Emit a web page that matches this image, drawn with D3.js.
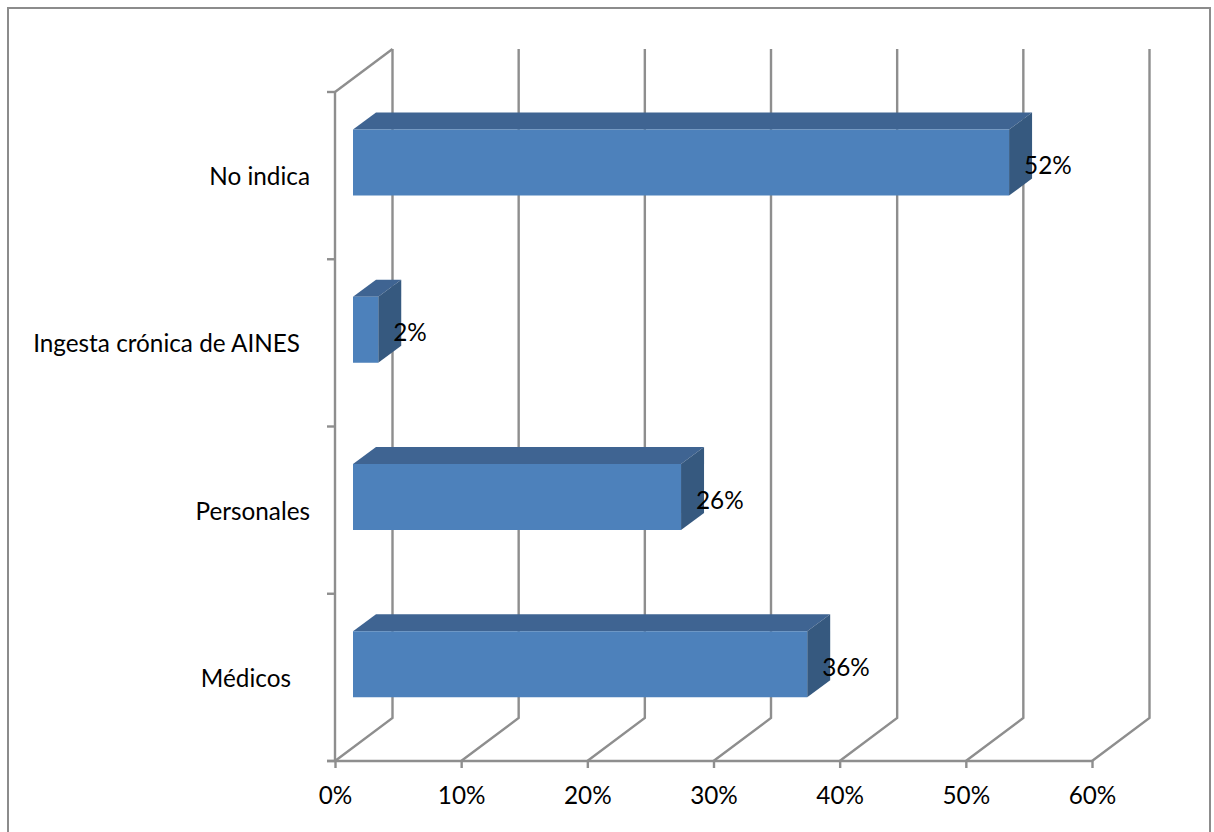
<!DOCTYPE html>
<html>
<head>
<meta charset="utf-8">
<script src="https://cdn.jsdelivr.net/npm/d3@7"></script>
<style>
html,body{margin:0;padding:0;background:#fff}
svg{display:block}
text{font-family:Lato,"Open Sans",sans-serif;fill:#000}
</style>
</head>
<body>
<svg id="chart" width="1214" height="832"></svg>
<script>
// Chart values, bottom category first
const categories = ["Médicos", "Personales", "Ingesta crónica de AINES", "No indica"];
const values = [36, 26, 2, 52];
const xTicks = [0, 10, 20, 30, 40, 50, 60];
// Extra left shift of each category label (trailing blanks in the source labels)
const labelShift = [19, 0, 10, 0];

const svg = d3.select("#chart");

const x = d3.scaleLinear().domain([0, 60]).range([335, 1092]);
const y = d3.scaleBand().domain(categories).range([761, 92]);

// Oblique projection: wall depth and bar depth
const wall = {dx: 57.5, dy: -43};
const barInsetX = 18, barTopInset = 37.5, barHeight = 66;
const bar = {dx: 23, dy: -17};

const axisColor = "#8e8e8e";
const gridW = 2.4;
const fontSize = "24.3px";

// Outer frame; its lower edge runs past the bottom of the page
svg.append("rect").attr("x", 8).attr("y", 8).attr("width", 1202).attr("height", 840)
  .attr("fill", "#fff").attr("stroke", "#8c8c8c").attr("stroke-width", 2);

// Back wall gridlines and the floor diagonals
const grid = svg.append("g").attr("fill", "none").attr("stroke", axisColor).attr("stroke-width", gridW);
xTicks.forEach(t => {
  const px = x(t);
  grid.append("path").attr("d",
    `M${px},761 L${px + wall.dx},${761 + wall.dy} L${px + wall.dx},${92 + wall.dy}`);
});

// Side wall top edge and left axis
grid.append("path").attr("d", `M${x(0)},92 L${x(0) + wall.dx},${92 + wall.dy}`);
grid.append("line").attr("x1", x(0)).attr("x2", x(0)).attr("y1", 92).attr("y2", 761);

// Category tick marks, including both axis ends
const yEdges = categories.map(c => y(c) + y.bandwidth()).concat([y.range()[1]]);
grid.selectAll("line.ytick").data(yEdges).join("line").attr("class", "ytick")
  .attr("x1", x(0) - 8).attr("x2", x(0)).attr("y1", d => d).attr("y2", d => d);

// Value axis with its ticks
const xAxis = svg.append("g").attr("transform", "translate(0,761)")
  .call(d3.axisBottom(x).tickValues(xTicks).tickSize(7).tickFormat(d => d + "%"));
xAxis.select(".domain").attr("stroke", axisColor).attr("stroke-width", gridW).attr("d", `M${x(0) - 8},0H${x(60)}`);
xAxis.selectAll(".tick line").attr("stroke", axisColor).attr("stroke-width", gridW);
xAxis.selectAll(".tick text").attr("y", 43).attr("dy", 0)
  .style("font-size", fontSize).style("font-family", "Lato,'Open Sans',sans-serif").attr("fill", "#000");

// 3D bars: top and side faces first, then the front
const bars = svg.append("g").selectAll("g").data(categories.map((c, i) => ({c, v: values[i]}))).join("g");
const x0 = x(0) + barInsetX;
const front = d => x(d.v) - x(0);
bars.append("path").attr("fill", "#3f6492").attr("d", d => {
  const t = y(d.c) + barTopInset, r = x0 + front(d);
  return `M${x0},${t}L${x0 + bar.dx},${t + bar.dy}L${r + bar.dx},${t + bar.dy}L${r},${t}Z`;
});
bars.append("path").attr("fill", "#36597f").attr("d", d => {
  const t = y(d.c) + barTopInset, r = x0 + front(d);
  return `M${r},${t}L${r + bar.dx},${t + bar.dy}L${r + bar.dx},${t + bar.dy + barHeight}L${r},${t + barHeight}Z`;
});
bars.append("rect").attr("fill", "#4d81bb")
  .attr("x", x0).attr("y", d => y(d.c) + barTopInset)
  .attr("width", front).attr("height", barHeight);

// Value labels
bars.append("text")
  .attr("x", d => x0 + front(d) + 15).attr("y", d => y(d.c) + barTopInset + 44.5)
  .style("font-size", fontSize).text(d => d.v + "%");

// Category labels
svg.append("g").selectAll("text").data(categories).join("text")
  .attr("text-anchor", "end")
  .attr("x", (d, i) => 310 - labelShift[i])
  .attr("y", d => y(d) + y.bandwidth() / 2 + 9.5)
  .style("font-size", fontSize).text(d => d);
</script>
</body>
</html>
